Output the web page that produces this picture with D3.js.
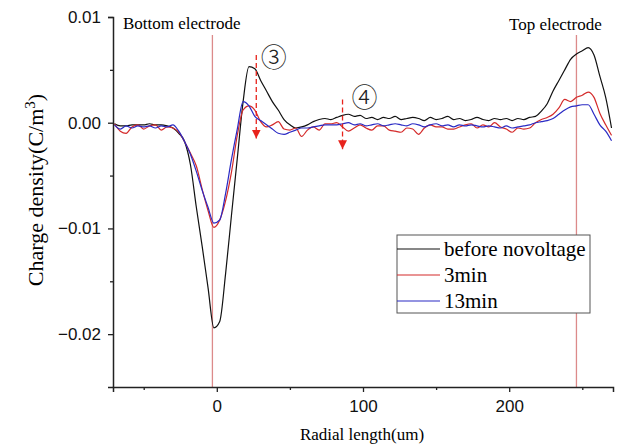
<!DOCTYPE html>
<html>
<head>
<meta charset="utf-8">
<script src="https://cdn.jsdelivr.net/npm/d3@7"></script>
<style>
  body { margin: 0; background: #fff; }
  svg { display: block; }
</style>
</head>
<body>
<div id="chart"></div>
<script>
// radial positions (um)
const radial = [-70,-66,-62,-58,-54,-50,-46,-42,-38,-34,-30,-26,-22,-18,-14,-10,-6,-2,
  2,6,10,14,18,22,26,30,34,38,42,46,50,54,58,62,66,70,74,78,82,86,90,94,98,102,106,110,
  114,118,122,126,130,134,138,142,146,150,154,158,162,166,170,174,178,182,186,190,194,198,
  202,206,210,214,218,222,226,230,234,238,242,246,250,254,258,262,266,270];

// charge density (C/m3)
const beforeNovoltage = [-0.0001,-0.0003,-0.0003,-0.0002,-0.0002,-0.0002,-0.0001,-0.0002,-0.0002,-0.0003,-0.0005,-0.0010,-0.0018,-0.0040,-0.0080,-0.0117,-0.0156,-0.0194,
  -0.0188,-0.0143,-0.0088,-0.0034,0.0020,0.0053,0.0051,0.0040,0.0030,0.0020,0.0012,0.0003,-0.0002,-0.0005,-0.0004,-0.0002,0.0001,0.0003,0.0004,0.0003,0.0005,0.0007,
  0.0008,0.0006,0.0007,0.0004,0.0005,0.0003,0.0005,0.0004,0.0006,0.0003,0.0004,0.0005,0.0004,0.0002,0.0005,0.0003,0.0004,0.0006,0.0003,0.0004,0.0002,0.0003,0.0005,
  0.0003,0.0002,0.0004,0.0003,0.0004,0.0002,0.0004,0.0003,0.0005,0.0006,0.0011,0.0018,0.0030,0.0040,0.0050,0.0060,0.0065,0.0068,0.0071,0.0064,0.0044,0.0024,-0.0005];

const min3 = [-0.0001,-0.0008,-0.0010,-0.0004,-0.0002,-0.0006,-0.0003,-0.0002,-0.0007,-0.0004,-0.0005,-0.0009,-0.0018,-0.0029,-0.0041,-0.0063,-0.0083,-0.0099,
  -0.0092,-0.0074,-0.0047,-0.0012,0.0012,0.0016,0.0012,0.0001,-0.0004,-0.0002,0.0001,-0.0006,-0.0007,-0.0005,-0.0013,-0.0007,-0.0004,-0.0007,-0.0001,-0.0001,0.0000,-0.0004,
  -0.0008,-0.0005,-0.0002,-0.0005,-0.0007,-0.0003,-0.0003,-0.0007,-0.0008,-0.0009,-0.0005,-0.0006,-0.0011,-0.0005,-0.0002,-0.0004,-0.0004,-0.0006,-0.0006,-0.0004,-0.0002,-0.0001,-0.0005,
  -0.0002,-0.0004,0.0000,-0.0004,-0.0006,-0.0009,-0.0005,-0.0006,-0.0005,0.0000,0.0003,0.0005,0.0008,0.0014,0.0022,0.0020,0.0024,0.0026,0.0029,0.0024,0.0009,-0.0002,-0.0012];

const min13 = [-0.0002,-0.0006,-0.0003,-0.0005,-0.0003,-0.0004,-0.0003,-0.0005,-0.0003,-0.0004,-0.0002,-0.0008,-0.0018,-0.0030,-0.0046,-0.0064,-0.0080,-0.0095,
  -0.0092,-0.0067,-0.0035,-0.0006,0.0020,0.0016,0.0006,0.0002,-0.0002,-0.0006,-0.0010,-0.0011,-0.0009,-0.0007,-0.0005,-0.0005,-0.0004,-0.0003,-0.0002,-0.0002,-0.0002,-0.0001,
  0.0000,-0.0002,-0.0001,-0.0003,-0.0002,-0.0001,-0.0003,-0.0002,-0.0001,-0.0002,-0.0003,-0.0001,-0.0002,-0.0004,-0.0002,-0.0001,-0.0003,-0.0002,-0.0004,-0.0002,-0.0003,-0.0002,-0.0003,
  -0.0004,-0.0003,-0.0004,-0.0005,-0.0003,-0.0005,-0.0004,-0.0003,-0.0002,0.0000,0.0001,0.0002,0.0004,0.0008,0.0012,0.0015,0.0016,0.0017,0.0017,0.0008,-0.0002,-0.0008,-0.0017];

const seriesNames = ["before novoltage", "3min", "13min"];
const seriesColors = ["#111111", "#d42a2a", "#2a2ac4"];
const xMajorTicks = [0, 100, 200];
const xMinorTicks = [-50, 50, 150, 250];
const yMajorTicks = [-0.02, -0.01, 0.00, 0.01];
const yMinorTicks = [-0.015, -0.005, 0.005];
const electrodes = [-3, 246];

const W = 621, H = 446;
const svg = d3.select("#chart").append("svg").attr("width", W).attr("height", H);

// scales: plot box spans 113..613 x 17..387
const x = d3.scaleLinear().domain([-71, 271]).range([113, 613]);
const y = d3.scaleLinear().domain([-0.025, 0.01]).range([387, 17]);

// electrode markers
svg.append("g").selectAll("line").data(electrodes).join("line")
  .attr("x1", d => x(d)).attr("x2", d => x(d))
  .attr("y1", y(0.0083)).attr("y2", y(-0.025))
  .attr("stroke", "#dc8a8a").attr("stroke-width", 1.3);

// curves
const series = [beforeNovoltage, min3, min13];
const line = d3.line().x((d, i) => x(radial[i])).y(d => y(d)).curve(d3.curveMonotoneX);
svg.append("g").selectAll("path").data(series).join("path")
  .attr("d", d => line(d))
  .attr("fill", "none")
  .attr("stroke", (d, i) => seriesColors[i])
  .attr("stroke-width", 1.2);

// axes
const axisFont = "'Liberation Sans', Arial, sans-serif";
const gx = svg.append("g").attr("transform", `translate(0,${y(-0.025)})`)
  .call(d3.axisBottom(x).tickValues(xMajorTicks).tickSize(5).tickPadding(8).tickFormat(d3.format("d")));
svg.append("g").attr("transform", `translate(0,${y(-0.025)})`)
  .call(d3.axisBottom(x).tickValues(xMinorTicks).tickSize(3).tickFormat(""))
  .select(".domain").remove();
const gy = svg.append("g").attr("transform", `translate(${x(-71)},0)`)
  .call(d3.axisLeft(y).tickValues(yMajorTicks).tickSize(5).tickPadding(7).tickFormat(d3.format(".2f")));
svg.append("g").attr("transform", `translate(${x(-71)},0)`)
  .call(d3.axisLeft(y).tickValues(yMinorTicks).tickSize(3).tickFormat(""))
  .select(".domain").remove();
[gx, gy].forEach(g => {
  g.select(".domain").attr("stroke", "#222").attr("stroke-width", 1.5);
  g.selectAll(".tick text").attr("fill", "#111").style("font-family", axisFont).style("font-size", "17px");
});
svg.selectAll(".tick line").attr("stroke", "#222").attr("stroke-width", 1.3);

// axis titles
const serif = "'Liberation Serif', 'Times New Roman', serif";
svg.append("text").attr("x", 362).attr("y", 440).attr("text-anchor", "middle")
  .style("font-family", serif).style("font-size", "17px").text("Radial length(um)");
const yl = svg.append("text").attr("transform", "translate(43,190) rotate(-90)")
  .attr("text-anchor", "middle").style("font-family", serif).style("font-size", "22px");
yl.append("tspan").text("Charge density(C/m");
yl.append("tspan").attr("dy", -8).style("font-size", "15px").text("3");
yl.append("tspan").attr("dy", 8).text(")");

// electrode labels
svg.append("text").attr("x", 123).attr("y", 29).style("font-family", serif).style("font-size", "17px").text("Bottom electrode");
svg.append("text").attr("x", 509).attr("y", 30).style("font-family", serif).style("font-size", "17px").text("Top electrode");

// annotations (dashed red arrows + circled numbers)
const defs = svg.append("defs");
defs.append("marker").attr("id", "arr").attr("viewBox", "0 0 10 10")
  .attr("refX", 10).attr("refY", 5).attr("markerWidth", 9).attr("markerHeight", 10)
  .attr("markerUnits", "userSpaceOnUse").attr("orient", "auto")
  .append("path").attr("d", "M0,0L10,5L0,10Z").attr("fill", "#e8231c");
const notes = [
  { label: "③", at: 27, from: 0.0064, to: -0.0015, lx: 39, ly: 0.0064 },
  { label: "④", at: 86, from: 0.0022, to: -0.0025, lx: 101, ly: 0.0026 }
];
notes.forEach(n => {
  svg.append("line").attr("x1", x(n.at)).attr("x2", x(n.at)).attr("y1", y(n.from)).attr("y2", y(n.to))
    .attr("stroke", "#e8231c").attr("stroke-width", 1.3).attr("stroke-dasharray", "5,3")
    .attr("marker-end", "url(#arr)");
  svg.append("text").attr("x", x(n.lx)).attr("y", y(n.ly)).attr("text-anchor", "middle")
    .attr("dominant-baseline", "central")
    .style("font-family", "'Noto Sans CJK JP', 'DejaVu Sans', sans-serif").style("font-size", "26px")
    .style("font-weight", 300).attr("fill", "#222").text(n.label);
});

// legend
const lg = svg.append("g").attr("transform", "translate(397,235)");
lg.append("rect").attr("width", 193).attr("height", 78).attr("fill", "#fff")
  .attr("stroke", "#555").attr("stroke-width", 1);
seriesNames.forEach((name, i) => {
  const ry = 14 + i * 26;
  lg.append("line").attr("x1", 0).attr("x2", 43).attr("y1", ry).attr("y2", ry)
    .attr("stroke", seriesColors[i]).attr("stroke-width", 1.2);
  lg.append("text").attr("x", 47).attr("y", ry + 7)
    .style("font-family", serif).style("font-size", "21px").text(name);
});
</script>
</body>
</html>
